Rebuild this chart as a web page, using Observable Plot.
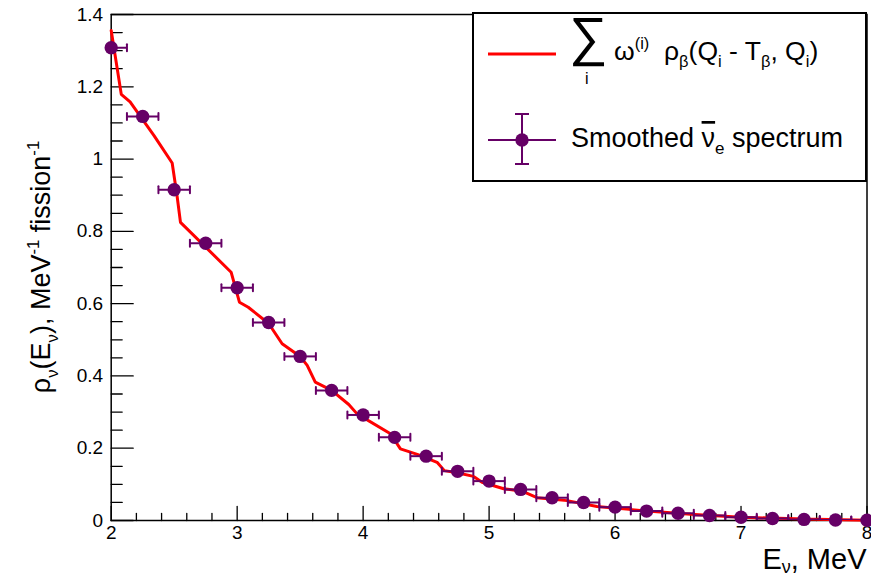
<!DOCTYPE html>
<html><head><meta charset="utf-8">
<script src="https://cdn.jsdelivr.net/npm/d3@7"></script>
<script src="https://cdn.jsdelivr.net/npm/@observablehq/plot@0.6"></script>
<style>
body{margin:0;background:#fff;}
#wrap{width:871px;height:578px;}
</style></head><body><div id="wrap"></div>
<script>
// Smoothed antineutrino spectrum (points, bin centres) and its half bin width
const energy = [2.0,2.25,2.5,2.75,3.0,3.25,3.5,3.75,4.0,4.25,4.5,4.75,5.0,5.25,5.5,5.75,6.0,6.25,6.5,6.75,7.0,7.25,7.5,7.75,8.0];
const smoothed = [1.308,1.118,0.915,0.767,0.644,0.548,0.454,0.360,0.292,0.230,0.178,0.136,0.109,0.086,0.063,0.050,0.037,0.026,0.020,0.014,0.009,0.0055,0.003,0.0015,0.0005];
const binHalfWidth = 0.125;
// Summed beta-branch curve (red line)
const lineEnergy = [2.0,2.08,2.15,2.34,2.484,2.524,2.55,2.952,3.018,3.088,3.25,3.357,3.5,3.556,3.62,3.75,3.886,3.952,4.217,4.296,4.43,4.587,4.645,4.746,4.877,4.944,5.116,5.262,5.38,5.619,5.857,6.2,6.6,7.0,7.5,8.0];
const lineRho = [1.356,1.179,1.158,1.065,0.989,0.895,0.825,0.687,0.604,0.590,0.545,0.489,0.454,0.429,0.383,0.360,0.321,0.295,0.240,0.198,0.183,0.161,0.138,0.132,0.122,0.106,0.088,0.081,0.063,0.055,0.039,0.028,0.017,0.009,0.004,0.0008];
// Axes
const xDomain = [2, 8];
const yDomain = [0, 1.4];
const xMajorTicks = [2,3,4,5,6,7,8];
const xTickLabels = ["2","3","4","5","6","7","8"];
const yMajorTicks = [0,0.2,0.4,0.6,0.8,1.0,1.2,1.4];
const yTickLabels = ["0","0.2","0.4","0.6","0.8","1","1.2","1.4"];
const xMinorStep = 0.2;
const yMinorStep = 0.05;

const purple = "#660066";
const red = "#ff0000";
const font = "'Liberation Sans', Arial, Helvetica, sans-serif";

const pts = energy.map((e, i) => ({e, rho: smoothed[i]}));
const curve = lineEnergy.map((e, i) => ({e, rho: lineRho[i]}));
const xMinor = d3.range(Math.round((xDomain[1]-xDomain[0])/xMinorStep)+1).map(k => +(xDomain[0]+k*xMinorStep).toFixed(4)).filter(v => !xMajorTicks.includes(v));
const yMinor = d3.range(Math.round((yDomain[1]-yDomain[0])/yMinorStep)+1).map(k => +(yDomain[0]+k*yMinorStep).toFixed(4)).filter(v => !yMajorTicks.some(t => Math.abs(t-v)<1e-6));
const xLab = new Map(xMajorTicks.map((v,i)=>[v,xTickLabels[i]]));
const yLab = new Map(yMajorTicks.map((v,i)=>[v,yTickLabels[i]]));

const seg = {draw(ctx, l){ ctx.moveTo(0,0); ctx.lineTo(0,-l); }};

const chart = Plot.plot({
  width: 871, height: 578,
  marginLeft: 110.7, marginRight: 4.5, marginTop: 14, marginBottom: 58,
  style: {fontFamily: font, fontSize: "19px", color: "black", background: "white", overflow: "visible"},
  x: {domain: xDomain, axis: null},
  y: {domain: yDomain, axis: null},
  marks: [
    Plot.frame({stroke: "black", strokeWidth: 1.5}),
    // inward ticks
    Plot.vector(xMajorTicks, {x: d => d, frameAnchor: "bottom", length: 14, rotate: 0, anchor: "start", shape: seg, stroke: "black", strokeWidth: 1.3}),
    Plot.vector(xMinor, {x: d => d, frameAnchor: "bottom", length: 7, rotate: 0, anchor: "start", shape: seg, stroke: "black", strokeWidth: 1.3}),
    Plot.vector(yMajorTicks, {y: d => d, frameAnchor: "left", length: 22, rotate: 90, anchor: "start", shape: seg, stroke: "black", strokeWidth: 1.3}),
    Plot.vector(yMinor, {y: d => d, frameAnchor: "left", length: 11, rotate: 90, anchor: "start", shape: seg, stroke: "black", strokeWidth: 1.3}),
    // tick labels
    Plot.axisX(xMajorTicks, {tickSize: 0, tickPadding: 5, fontSize: 19, tickFormat: d => xLab.get(d), label: null}),
    Plot.axisY(yMajorTicks, {tickSize: 0, tickPadding: 8, fontSize: 19, tickFormat: d => yLab.get(d), label: null}),
    // red curve
    Plot.line(curve, {x: "e", y: "rho", stroke: red, strokeWidth: 3, strokeLinejoin: "miter"}),
    // error bars
    Plot.link(pts, {x1: d => d.e - binHalfWidth, x2: d => d.e + binHalfWidth, y1: "rho", y2: "rho", stroke: purple, strokeWidth: 2, clip: true}),
    Plot.vector(pts, {x: d => d.e - binHalfWidth, y: "rho", length: 7, anchor: "middle", shape: seg, stroke: purple, strokeWidth: 2, clip: true}),
    Plot.vector(pts, {x: d => d.e + binHalfWidth, y: "rho", length: 7, anchor: "middle", shape: seg, stroke: purple, strokeWidth: 2, clip: true}),
    Plot.dot(pts, {x: "e", y: "rho", r: 6.7, fill: purple, stroke: "none"})
  ]
});
document.getElementById("wrap").appendChild(chart);

const svg = d3.select(chart);
const sx = chart.scale("x"), sy = chart.scale("y");
const xr = sx.range, yr = sy.range; // [left,right], [bottom,top]

function rich(sel, parts, size, subShift = 0.28) {
  let shift = 0;
  parts.forEach(([t, mode]) => {
    const ts = sel.append("tspan").text(t);
    let target = 0, fs = size;
    if (mode === "sub") { target = subShift*size; fs = 0.62*size; }
    if (mode === "sup") { target = -0.42*size; fs = 0.62*size; }
    ts.attr("dy", target - shift).attr("font-size", fs);
    shift = target;
  });
  return sel;
}

// x title (right-aligned)
const xt = svg.append("text").attr("x", xr[1]).attr("y", yr[0] + 49)
  .attr("text-anchor", "end").attr("font-family", font).attr("fill", "black");
rich(xt, [["E", null], ["ν", "sub"], [", MeV", null]], 29, 0.14);

// y title (centred)
const yt = svg.append("text")
  .attr("transform", `translate(50,${(yr[0]+yr[1])/2}) rotate(-90)`)
  .attr("text-anchor", "middle").attr("font-family", font).attr("fill", "black");
rich(yt, [["ρ", null], ["ν", "sub"], ["(E", null], ["ν", "sub"], ["), MeV", null], ["-1", "sup"], [" fission", null], ["-1", "sup"]], 27);

// legend
const lg = svg.append("g").attr("font-family", font).attr("text-anchor", "start").attr("fill", "black");
lg.append("rect").attr("x", 473).attr("y", 13).attr("width", 393).attr("height", 168)
  .attr("fill", "white").attr("stroke", "black").attr("stroke-width", 2);
lg.append("line").attr("x1", 488).attr("x2", 556).attr("y1", 54).attr("y2", 54).attr("stroke", red).attr("stroke-width", 3);
lg.append("text").attr("x", 569).attr("y", 55).attr("font-size", 54).text("∑");
lg.append("text").attr("x", 585).attr("y", 84).attr("font-size", 16).text("i");
const l1 = lg.append("text").attr("x", 614).attr("y", 60);
rich(l1, [["ω", null], ["(i)", "sup"], ["  ρ", null], ["β", "sub"], ["(Q", null], ["i", "sub"], [" - T", null], ["β", "sub"], [", Q", null], ["i", "sub"], [")", null]], 26.5);
// marker entry
lg.append("line").attr("x1", 488).attr("x2", 556).attr("y1", 140).attr("y2", 140).attr("stroke", purple).attr("stroke-width", 2);
lg.append("line").attr("x1", 522).attr("x2", 522).attr("y1", 114).attr("y2", 164).attr("stroke", purple).attr("stroke-width", 2);
lg.append("line").attr("x1", 515).attr("x2", 529).attr("y1", 114).attr("y2", 114).attr("stroke", purple).attr("stroke-width", 2);
lg.append("line").attr("x1", 515).attr("x2", 529).attr("y1", 164).attr("y2", 164).attr("stroke", purple).attr("stroke-width", 2);
lg.append("circle").attr("cx", 522).attr("cy", 140).attr("r", 6.7).attr("fill", purple);
const l2 = lg.append("text").attr("x", 571).attr("y", 147).attr("font-size", 27);
l2.append("tspan").text("Smoothed ");
l2.append("tspan").text("ν").style("text-decoration", "overline");
l2.append("tspan").text("e").attr("font-size", 17).attr("dy", 7);
l2.append("tspan").text(" spectrum").attr("dy", -7);
</script></body></html>
